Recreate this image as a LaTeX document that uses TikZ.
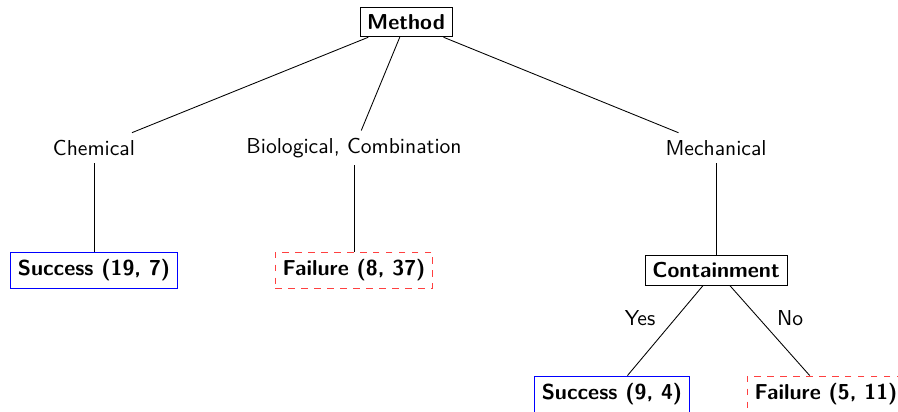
\documentclass[tikz,border=0pt]{standalone}
\usetikzlibrary{positioning}

\begin{document}
\begin{tikzpicture}[
    every node/.style={font=\sffamily},
    question/.style={rectangle, draw, font=\sffamily\bfseries},
    success/.style={rectangle, draw=blue, font=\sffamily\bfseries},
    failure/.style={rectangle, draw=red!75, dashed, font=\sffamily\bfseries}
]
\useasboundingbox (0,0) rectangle (14.61,-6.70);

% Nodes
\node[question] (method) at (6.606,-0.358) {Method};
\node (chemical) at (1.529,-2.408) {Chemical};
\node (biocomb) at (5.760,-2.408) {Biological, Combination};
\node (mechanical) at (11.650,-2.408) {Mechanical};
\node[success] (succA) at (1.529,-4.393) {Success (19, 7)};
\node[failure] (failA) at (5.760,-4.393) {Failure (8, 37)};
\node[question] (containment) at (11.650,-4.393) {Containment};
\node[success] (succB) at (9.957,-6.410) {Success (9, 4)};
\node[failure] (failB) at (13.439,-6.410) {Failure (5, 11)};

% Edges
\draw (method) -- (chemical);
\draw (method) -- (biocomb);
\draw (method) -- (mechanical);
\draw (chemical) -- (succA);
\draw (biocomb) -- (failA);
\draw (mechanical) -- (containment);
\draw (containment) -- (succB);
\draw (containment) -- (failB);

% Branch labels
\node (yes) at (10.413,-5.174) {Yes};
\node (no) at (12.854,-5.174) {No};

\end{tikzpicture}
\end{document}
